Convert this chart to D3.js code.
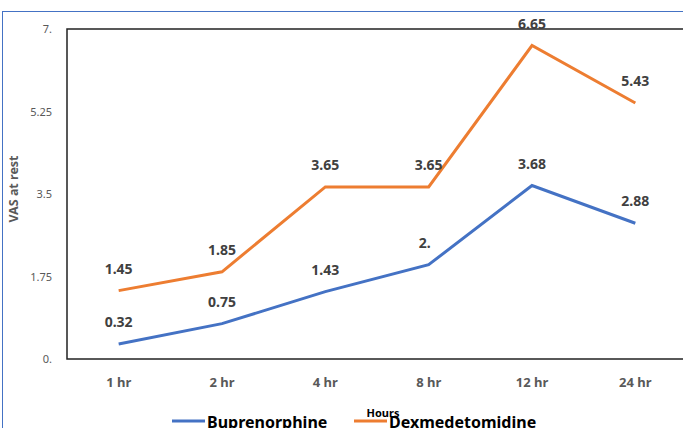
<!DOCTYPE html>
<html>
<head>
<meta charset="utf-8">
<script src="https://cdn.jsdelivr.net/npm/d3@7"></script>
<style>
  body { margin: 0; background: #fff; overflow: hidden; }
  svg { display: block; font-family: "Noto Sans", "Open Sans", sans-serif; }
</style>
</head>
<body>
<svg id="chart" width="683" height="428"></svg>
<script>
var hours = ["1 hr", "2 hr", "4 hr", "8 hr", "12 hr", "24 hr"];
var buprenorphine = [0.32, 0.75, 1.43, 2.0, 3.68, 2.88];
var dexmedetomidine = [1.45, 1.85, 3.65, 3.65, 6.65, 5.43];
var yTicks = [0, 1.75, 3.5, 5.25, 7];
var yTickText = ["0.", "1.75", "3.5", "5.25", "7."];
var labelText = {
    bup: ["0.32", "0.75", "1.43", "2.", "3.68", "2.88"],
    dex: ["1.45", "1.85", "3.65", "3.65", "6.65", "5.43"]
};

var svg = d3.select("#chart");
var plotLeft = 67, plotRight = 687, plotTop = 29, plotBottom = 359;

// outer blue border
svg.append("rect")
    .attr("x", 2.5).attr("y", 11.5)
    .attr("width", 700).attr("height", 430)
    .attr("fill", "none")
    .attr("stroke", "#4472C4")
    .attr("stroke-width", 1);

var x = d3.scaleBand().domain(hours).range([plotLeft, plotRight]);
var y = d3.scaleLinear().domain([0, 7]).range([plotBottom, plotTop]);

// plot frame
svg.append("rect")
    .attr("x", plotLeft).attr("y", plotTop)
    .attr("width", plotRight - plotLeft).attr("height", plotBottom - plotTop)
    .attr("fill", "none")
    .attr("stroke", "#222")
    .attr("stroke-width", 1.5);

// y axis labels
var yAxis = d3.axisLeft(y).tickValues(yTicks)
    .tickFormat((d, i) => yTickText[i]).tickSize(0).tickPadding(15);
var gy = svg.append("g").attr("transform", "translate(" + plotLeft + ",0)").call(yAxis);
gy.select(".domain").remove();
gy.selectAll("text").attr("fill", "#595959").style("font-size", "11px")
    .style("font-family", "Noto Sans, sans-serif");

// x axis labels
var xAxis = d3.axisBottom(x).tickSize(0).tickPadding(19);
var gx = svg.append("g").attr("transform", "translate(0," + plotBottom + ")").call(xAxis);
gx.select(".domain").remove();
gx.selectAll("text").attr("fill", "#595959")
    .style("font-size", "13px").style("font-weight", "bold")
    .style("font-family", "Noto Sans, sans-serif");

var line = d3.line()
    .x((d, i) => x(hours[i]) + x.bandwidth() / 2)
    .y(d => y(d));

function drawSeries(values, texts, color){
    svg.append("path")
        .datum(values)
        .attr("d", line)
        .attr("fill", "none")
        .attr("stroke", color)
        .attr("stroke-width", 3)
        .attr("stroke-linejoin", "miter");

    svg.append("g").selectAll("text")
        .data(values)
        .join("text")
        .attr("x", (d, i) => x(hours[i]) + x.bandwidth() / 2 - (texts[i] == "2." ? 4 : 0))
        .attr("y", d => y(d) - 17)
        .attr("text-anchor", "middle")
        .attr("fill", "#404040")
        .style("font-size", "14px")
        .style("font-weight", "bold")
        .text((d, i) => texts[i]);
}

drawSeries(buprenorphine, labelText.bup, "#4472C4");
drawSeries(dexmedetomidine, labelText.dex, "#ED7D31");

// axis titles
svg.append("text")
    .attr("transform", "translate(18,189) rotate(-90)")
    .attr("text-anchor", "middle")
    .attr("fill", "#595959")
    .style("font-size", "12.5px")
    .style("font-weight", "bold")
    .text("VAS at rest");

svg.append("text")
    .attr("x", 383).attr("y", 417)
    .attr("text-anchor", "middle")
    .attr("fill", "#000")
    .style("font-size", "11px")
    .style("font-weight", "bold")
    .text("Hours");

// legend
var legend = [
    {name: "Buprenorphine", color: "#4472C4", x: 172},
    {name: "Dexmedetomidine", color: "#ED7D31", x: 354}
];
legend.forEach(l => {
    svg.append("line")
        .attr("x1", l.x).attr("x2", l.x + 33)
        .attr("y1", 421).attr("y2", 421)
        .attr("stroke", l.color).attr("stroke-width", 3);
    svg.append("text")
        .attr("x", l.x + 35).attr("y", 428)
        .attr("fill", "#000")
        .style("font-size", "16px")
        .style("font-weight", "bold")
        .text(l.name);
});
</script>
</body>
</html>
